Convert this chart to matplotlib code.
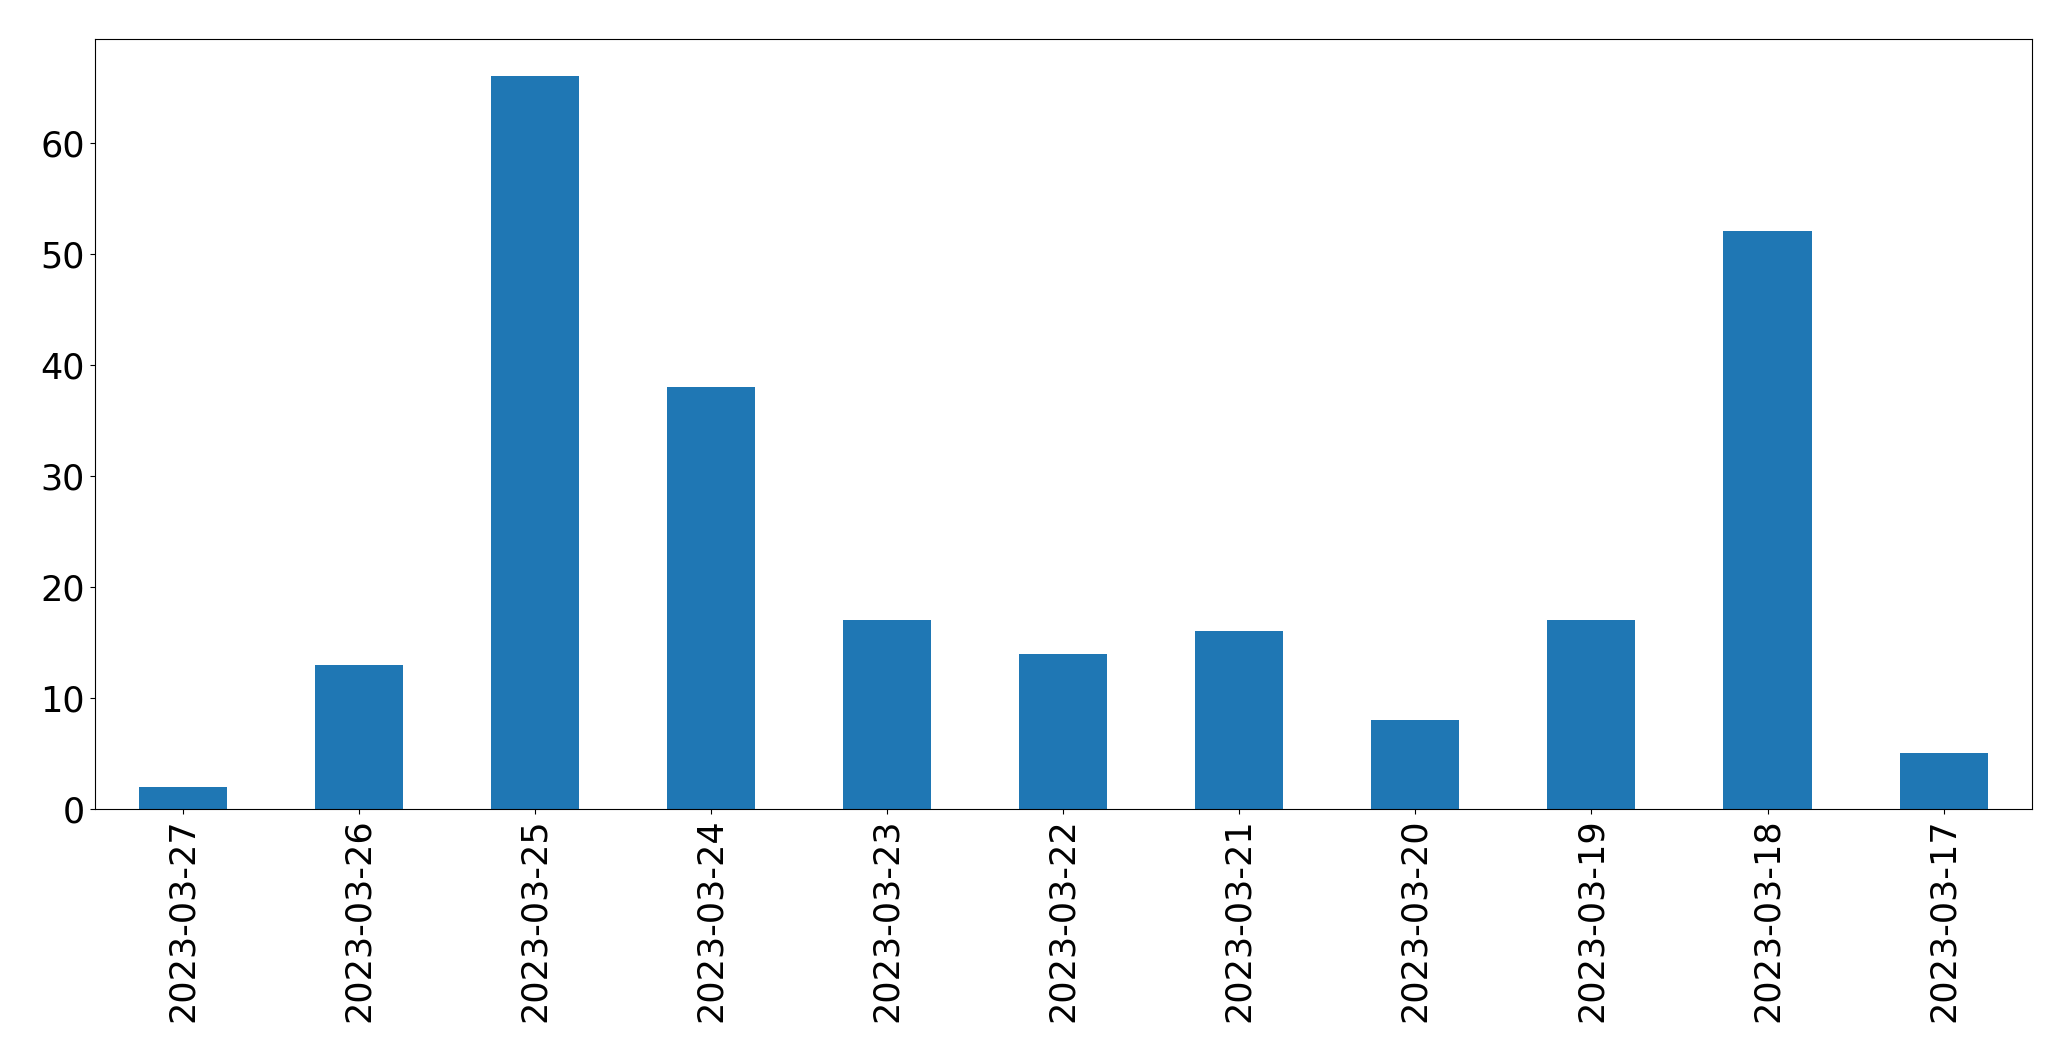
import matplotlib
matplotlib.use("Agg")
import matplotlib.pyplot as plt
import pandas as pd

dates = ["2023-03-27", "2023-03-26", "2023-03-25", "2023-03-24", "2023-03-23",
         "2023-03-22", "2023-03-21", "2023-03-20", "2023-03-19", "2023-03-18",
         "2023-03-17"]
counts = [2, 13, 66, 38, 17, 14, 16, 8, 17, 52, 5]

series = pd.Series(counts, index=dates)

fig = plt.figure(figsize=(20.71, 10.61), dpi=100)
ax = fig.add_axes([0.0457, 0.2375, 0.9353, 0.7255])
series.plot(kind="bar", ax=ax, color="#1f77b4", fontsize=25.2)
ax.tick_params(axis="both", labelsize=25.2)

fig.savefig("out.png", dpi=100)
